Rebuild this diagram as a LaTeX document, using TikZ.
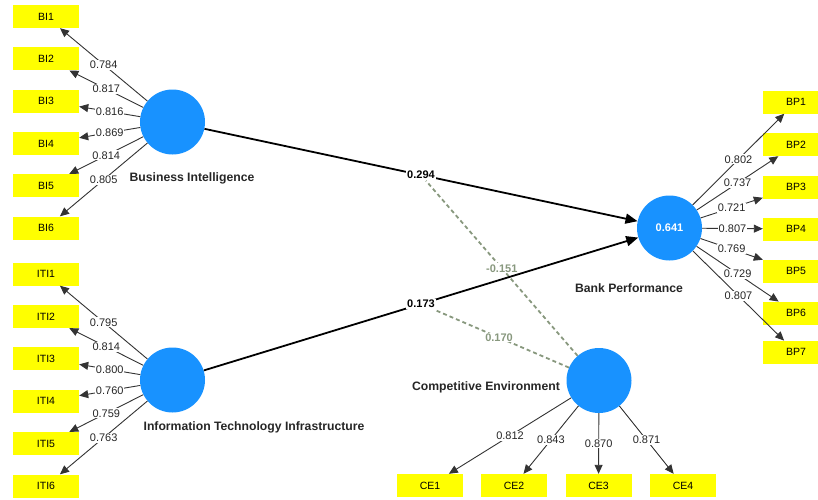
\documentclass[tikz,border=0pt]{standalone}
\usepackage{fontspec}
\setmainfont{Liberation Sans}
\usetikzlibrary{arrows.meta,backgrounds}

\definecolor{lvblue}{RGB}{24,146,255}
\definecolor{itemyellow}{RGB}{255,255,0}
\definecolor{modgreen}{RGB}{136,152,126}

\tikzset{
  latent/.style={circle, fill=lvblue, minimum size=65pt, inner sep=0pt, text=white,
    font=\fontsize{11}{13}\selectfont\bfseries},
  item/.style={rectangle, fill=itemyellow, minimum width=66pt, minimum height=23pt,
    inner sep=0pt, font=\fontsize{10.5}{12}\selectfont},
  lvname/.style={font=\fontsize{12.2}{14}\selectfont\bfseries, text=black!85},
  loading/.style={-{Triangle[length=9pt,width=8pt]}, line width=0.9pt, draw=black!80},
  weight/.style={midway, fill=white, inner sep=1pt, font=\fontsize{11}{13}\selectfont,
    text=black!85},
  structpath/.style={-{Triangle[length=12pt,width=10pt]}, line width=1.8pt},
  coef/.style={midway, fill=white, inner sep=1pt, font=\fontsize{11}{13}\selectfont\bfseries},
  moder/.style={draw=modgreen, line width=1.8pt, dash pattern=on 4pt off 3pt},
  modcoef/.style={coef, text=modgreen}
}

\begin{document}
\begin{tikzpicture}[x=1pt, y=-1pt]
  \clip (0,0) rectangle (818,499);

  % latent variables
  \node[latent] (BI) at (172.5,122) {};
  \node[latent] (ITI) at (172.5,380) {};
  \node[latent] (BP) at (669.5,228) {0.641};
  \node[latent] (CE) at (599,380.5) {};
  \node[lvname] at (192,178) {Business Intelligence};
  \node[lvname] at (254,427) {Information Technology Infrastructure};
  \node[lvname] at (629,288) {Bank Performance};
  \node[lvname] at (486,387) {Competitive Environment};

  % indicators
  \node[item] (BI1) at (46,16.5) {BI1};
  \node[item] (BI2) at (46,58.8) {BI2};
  \node[item] (BI3) at (46,101.1) {BI3};
  \node[item] (BI4) at (46,143.4) {BI4};
  \node[item] (BI5) at (46,185.7) {BI5};
  \node[item] (BI6) at (46,228) {BI6};
  \node[item] (ITI1) at (46,274) {ITI1};
  \node[item] (ITI2) at (46,316.4) {ITI2};
  \node[item] (ITI3) at (46,358.8) {ITI3};
  \node[item] (ITI4) at (46,401.2) {ITI4};
  \node[item] (ITI5) at (46,443.6) {ITI5};
  \node[item] (ITI6) at (46,486) {ITI6};
  \node[item] (BP1) at (796,102) {BP1};
  \node[item] (BP2) at (796,144.5) {BP2};
  \node[item] (BP3) at (796,187) {BP3};
  \node[item] (BP4) at (796,229) {BP4};
  \node[item] (BP5) at (796,271) {BP5};
  \node[item] (BP6) at (796,313.3) {BP6};
  \node[item] (BP7) at (796,352.3) {BP7};
  \node[item] (CE1) at (430,485.5) {CE1};
  \node[item] (CE2) at (514,485.5) {CE2};
  \node[item] (CE3) at (598.5,485.5) {CE3};
  \node[item] (CE4) at (683,485.5) {CE4};

  % outer loadings
  \draw[loading] (BI) -- node[weight] {0.784} (BI1);
  \draw[loading] (BI) -- node[weight] {0.817} (BI2);
  \draw[loading] (BI) -- node[weight] {0.816} (BI3);
  \draw[loading] (BI) -- node[weight] {0.869} (BI4);
  \draw[loading] (BI) -- node[weight] {0.814} (BI5);
  \draw[loading] (BI) -- node[weight] {0.805} (BI6);
  \draw[loading] (ITI) -- node[weight] {0.795} (ITI1);
  \draw[loading] (ITI) -- node[weight] {0.814} (ITI2);
  \draw[loading] (ITI) -- node[weight] {0.800} (ITI3);
  \draw[loading] (ITI) -- node[weight] {0.760} (ITI4);
  \draw[loading] (ITI) -- node[weight] {0.759} (ITI5);
  \draw[loading] (ITI) -- node[weight] {0.763} (ITI6);
  \draw[loading] (BP) -- node[weight] {0.802} (BP1);
  \draw[loading] (BP) -- node[weight] {0.737} (BP2);
  \draw[loading] (BP) -- node[weight] {0.721} (BP3);
  \draw[loading] (BP) -- node[weight] {0.807} (BP4);
  \draw[loading] (BP) -- node[weight] {0.769} (BP5);
  \draw[loading] (BP) -- node[weight] {0.729} (BP6);
  \draw[loading] (BP) -- node[weight] {0.807} (BP7);
  \draw[loading] (CE) -- node[weight] {0.812} (CE1);
  \draw[loading] (CE) -- node[weight] {0.843} (CE2);
  \draw[loading] (CE) -- node[weight] {0.870} (CE3);
  \draw[loading] (CE) -- node[weight] {0.871} (CE4);

  % inner model
  \draw[structpath] (BI) -- node[coef] (c294) {0.294} (BP);
  \draw[structpath] (ITI) -- node[coef] (c173) {0.173} (BP);

  % moderating effects
  \begin{scope}[on background layer]
    \draw[moder] (CE) -- node[modcoef] {-0.151} (c294);
    \draw[moder] (CE) -- node[modcoef, pos=0.52] {0.170} (c173);
  \end{scope}
\end{tikzpicture}
\end{document}
